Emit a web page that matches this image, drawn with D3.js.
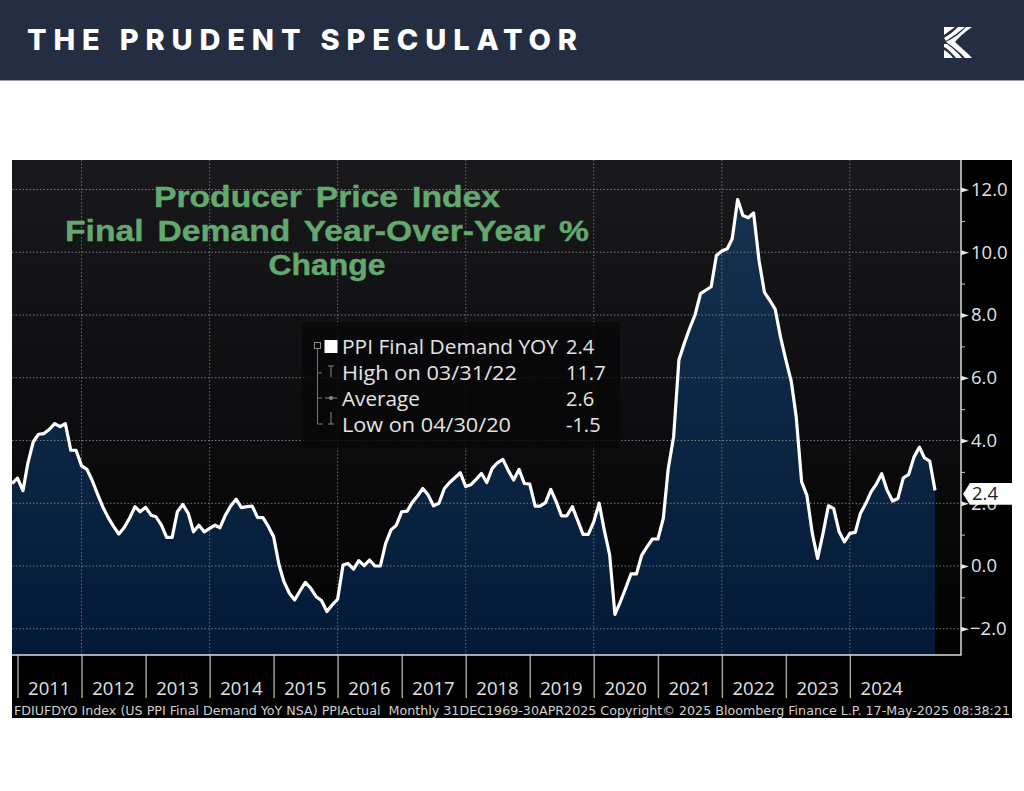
<!DOCTYPE html>
<html>
<head>
<meta charset="utf-8">
<script src="https://cdn.jsdelivr.net/npm/d3@7"></script>
<style>
  body { margin: 0; background: #fff; }
  svg { display: block; }
  text { font-family: "Open Sans", "Liberation Sans", Arial, sans-serif; }
</style>
</head>
<body>
<svg id="chart" width="1024" height="791"></svg>
<script>
// monthly, Nov 2010 to Apr 2025
var ppi2010 = [2.63, 2.8];
var ppi2011 = [2.4, 3.27, 3.96, 4.2, 4.22, 4.35, 4.54, 4.44, 4.54, 3.69, 3.69, 3.2];
var ppi2012 = [3.08, 2.74, 2.3, 1.89, 1.55, 1.27, 1.02, 1.23, 1.52, 1.89, 1.73, 1.87];
var ppi2013 = [1.62, 1.57, 1.3, 0.91, 0.91, 1.73, 1.96, 1.68, 1.09, 1.3, 1.09, 1.2];
var ppi2014 = [1.3, 1.22, 1.62, 1.91, 2.13, 1.86, 1.89, 1.91, 1.55, 1.54, 1.27, 0.93];
var ppi2015 = [0.03, -0.5, -0.87, -1.08, -0.79, -0.52, -0.71, -0.98, -1.1, -1.45, -1.24, -1.06];
var ppi2016 = [0.03, 0.08, -0.1, 0.17, 0.01, 0.19, 0, 0, 0.72, 1.15, 1.3, 1.73];
var ppi2017 = [1.75, 2.02, 2.23, 2.47, 2.26, 1.92, 2.0, 2.47, 2.66, 2.82, 2.97, 2.53];
var ppi2018 = [2.6, 2.76, 2.95, 2.66, 3.11, 3.29, 3.4, 3.04, 2.74, 3.08, 2.63, 2.61];
var ppi2019 = [1.91, 1.91, 2.02, 2.44, 2.05, 1.6, 1.6, 1.89, 1.46, 1.01, 1.01, 1.41];
var ppi2020 = [2.0, 1.15, 0.35, -1.54, -1.14, -0.71, -0.25, -0.25, 0.35, 0.62, 0.86, 0.86];
var ppi2021 = [1.52, 3.1, 4.13, 6.57, 7.1, 7.57, 8.0, 8.68, 8.79, 8.9, 9.9, 10.04];
var ppi2022 = [10.11, 10.43, 11.68, 11.17, 11.1, 11.25, 9.74, 8.72, 8.47, 8.19, 7.31, 6.57];
var ppi2023 = [5.88, 4.76, 2.68, 2.25, 1.04, 0.24, 1.04, 1.92, 1.83, 1.09, 0.77, 1.04];
var ppi2024 = [1.07, 1.67, 1.99, 2.36, 2.62, 2.94, 2.41, 2.07, 2.15, 2.81, 2.91, 3.47];
var ppi2025 = [3.79, 3.45, 3.34, 2.41];

var years = [2011, 2012, 2013, 2014, 2015, 2016, 2017, 2018, 2019, 2020, 2021, 2022, 2023, 2024];
var yMajor = [-2, 0, 2, 4, 6, 8, 10, 12];
var yMinor = [-1, 1, 3, 5, 7, 9, 11];
var titleLines = ["Producer Price Index", "Final Demand Year-Over-Year %", "Change"];
var legendRows = ["PPI Final Demand YOY", "High on 03/31/22", "Average", "Low on 04/30/20"];
var legendVals = ["2.4", "11.7", "2.6", "-1.5"];
var footer = "FDIUFDYO Index (US PPI Final Demand YoY NSA) PPIActual  Monthly 31DEC1969-30APR2025 Copyright\u00A9 2025 Bloomberg Finance L.P. 17-May-2025 08:38:21";

var values = [].concat(ppi2010, ppi2011, ppi2012, ppi2013, ppi2014, ppi2015, ppi2016, ppi2017, ppi2018, ppi2019, ppi2020, ppi2021, ppi2022, ppi2023, ppi2024, ppi2025);
// month ends, stored as the first of the next month so year ticks land on the turn of the year
var dates = values.map(function(d, i) { return new Date(2010, 11 + i, 1); });
var series = values.map(function(d, i) { return { date: dates[i], value: d }; });

var svg = d3.select("#chart");
var L = 12, R = 961, T = 160, B = 655;

var x = d3.scaleTime().domain([new Date(2011, 0, 1), new Date(2025, 0, 1)]).range([17.5, 914]);
var y = d3.scaleLinear().domain([0, 12]).range([566, 189.5]);

var defs = svg.append("defs");
var pg = defs.append("linearGradient").attr("id", "panelGrad").attr("x1", 0).attr("x2", 0).attr("y1", 0).attr("y2", 1);
pg.append("stop").attr("offset", 0).attr("stop-color", "#19191c");
pg.append("stop").attr("offset", 0.6).attr("stop-color", "#0b0b0d");
pg.append("stop").attr("offset", 1).attr("stop-color", "#020203");
var ag = defs.append("linearGradient").attr("id", "areaGrad").attr("gradientUnits", "userSpaceOnUse")
  .attr("x1", 0).attr("x2", 0).attr("y1", y(12)).attr("y2", B);
ag.append("stop").attr("offset", 0).attr("stop-color", "#15324f");
ag.append("stop").attr("offset", 1).attr("stop-color", "#021a38");
defs.append("clipPath").attr("id", "plotClip").append("rect")
  .attr("x", L).attr("y", T).attr("width", R - L).attr("height", B - T);

// header band
svg.append("rect").attr("width", 1024).attr("height", 80).attr("fill", "#252d43");
svg.append("rect").attr("y", 80).attr("width", 1024).attr("height", 1).attr("fill", "#9a9ea8");
svg.append("text").attr("x", 27).attr("y", 50)
  .attr("textLength", 550).attr("lengthAdjust", "spacing")
  .style("font-family", "Inter").style("font-weight", 800).style("font-size", "29px")
  .attr("fill", "#fff").text("THE PRUDENT SPECULATOR");

// logo
var logo = svg.append("g").attr("transform", "translate(944,27)").attr("fill", "#fff");
logo.append("path").attr("d", "M0,0H11L0,8Z");
logo.append("path").attr("d", "M14,0H21C15,5 8,10 2,14L0,11C5,8 10,4 14,0Z");
logo.append("path").attr("d", "M22,0H28C21,5 15,10 11,15C16,20 23,25 28,31H21C16,25 9,20 2,15C10,11 17,6 22,0Z");
logo.append("path").attr("d", "M0,17L3,17C9,21 14,26 18,31H12C8,26 4,22 0,20Z");
logo.append("path").attr("d", "M0,23C4,25 7,28 9,31H0Z");

// black chart frame and panel
svg.append("rect").attr("x", L).attr("y", T).attr("width", 1012 - L).attr("height", 718 - T).attr("fill", "#000");
svg.append("rect").attr("x", L).attr("y", T).attr("width", R - L).attr("height", B - T).attr("fill", "url(#panelGrad)");

var plot = svg.append("g").attr("clip-path", "url(#plotClip)");

var area = d3.area().x(function(d) { return x(d.date); }).y0(B).y1(function(d) { return y(d.value); });
var line = d3.line().x(function(d) { return x(d.date); }).y(function(d) { return y(d.value); });

plot.append("path").datum(series).attr("d", area).attr("fill", "url(#areaGrad)");

// dotted grid, verticals only every second year
plot.selectAll(".hgrid").data(yMajor).enter().append("line").attr("class", "hgrid")
  .attr("x1", L).attr("x2", R).attr("y1", function(d) { return y(d); }).attr("y2", function(d) { return y(d); })
  .attr("stroke", "#77797c").attr("stroke-width", 1).attr("stroke-dasharray", "1.5 2");
plot.selectAll(".vgrid").data(years.filter(function(d) { return d % 2 == 0; })).enter().append("line").attr("class", "vgrid")
  .attr("x1", function(d) { return x(new Date(d, 0, 1)); }).attr("x2", function(d) { return x(new Date(d, 0, 1)); })
  .attr("y1", T).attr("y2", B)
  .attr("stroke", "#6c6e72").attr("stroke-width", 1).attr("stroke-dasharray", "1.5 2");

plot.append("path").datum(series).attr("d", line).attr("fill", "none")
  .attr("stroke", "#fff").attr("stroke-width", 3.2).attr("stroke-linejoin", "round");

// title
svg.selectAll(".title").data(titleLines).enter().append("text").attr("class", "title")
  .attr("x", 327).attr("y", function(d, i) { return [207, 241, 275][i]; })
  .attr("text-anchor", "middle")
  .attr("textLength", function(d, i) { return [346, 524, 117][i]; }).attr("lengthAdjust", "spacingAndGlyphs")
  .style("font-family", "Liberation Sans").style("font-weight", "bold").style("font-size", "29px")
  .style("word-spacing", "4px").attr("stroke", "#63a96f").attr("stroke-width", 0.4)
  .attr("fill", "#63a96f").text(function(d) { return d; });

// legend
var lg = svg.append("g");
lg.append("rect").attr("x", 302).attr("y", 322).attr("width", 318).attr("height", 126).attr("rx", 4)
  .attr("fill", "#070708").attr("fill-opacity", 0.82);
var legendY = d3.scalePoint().domain(legendRows).range([354, 432]);
lg.selectAll(".lname").data(legendRows).enter().append("text").attr("class", "lname")
  .attr("x", 342).attr("y", function(d) { return legendY(d); })
  .attr("textLength", function(d, i) { return [216, 175, 78, 169][i]; }).attr("lengthAdjust", "spacingAndGlyphs")
  .style("font-size", "20px").attr("fill", "#e4e4e4").text(function(d) { return d; });
lg.selectAll(".lval").data(legendVals).enter().append("text").attr("class", "lval")
  .attr("x", 566).attr("y", function(d, i) { return legendY(legendRows[i]); })
  .style("font-size", "20px").attr("fill", "#e4e4e4").text(function(d) { return d; });
lg.append("rect").attr("x", 324.5).attr("y", 340).attr("width", 13).attr("height", 13).attr("fill", "#fff");
lg.append("rect").attr("x", 314.5).attr("y", 342.5).attr("width", 6).attr("height", 6).attr("fill", "none").attr("stroke", "#8a8a8a");
lg.append("path").attr("d", "M317.5,349V424H323M317.5,373H322M317.5,398H322").attr("fill", "none").attr("stroke", "#777");
lg.append("path").attr("d", "M328,366H334M331,366V377M328,424H334M331,412V424M325,398H337").attr("fill", "none").attr("stroke", "#888");
lg.append("circle").attr("cx", 331).attr("cy", 398).attr("r", 2).attr("fill", "#888");

// y axis
svg.append("g").attr("transform", "translate(" + R + ",0)")
  .call(d3.axisRight(y).tickValues(yMinor).tickSize(4).tickFormat(""))
  .call(function(g) { g.select(".domain").remove(); g.selectAll("line").attr("stroke", "#c8c8c8"); });
var yAxis = svg.append("g").attr("transform", "translate(" + R + ",0)")
  .call(d3.axisRight(y).tickValues(yMajor).tickSize(0).tickPadding(10).tickFormat(d3.format(".1f")));
yAxis.select(".domain").remove();
yAxis.selectAll("text").style("font-size", "18.5px").style("font-family", "Open Sans").attr("fill", "#e2e2e2")
  .attr("x", function(d) { return d < 0 ? 9 : 10; });
yAxis.selectAll(".tick").append("path").attr("d", "M0,-2.5L8,0L0,2.5Z").attr("fill", "#e8e8e8");

// x axis: year ticks, then the labels centred in each year
var xAxis = svg.append("g").attr("transform", "translate(0," + B + ")")
  .call(d3.axisBottom(x).tickValues(years.map(function(d) { return new Date(d, 0, 1); })).tickSize(43).tickFormat(""));
xAxis.select(".domain").remove();
xAxis.selectAll("line").attr("stroke", "#a8a8a8").attr("stroke-width", 1.4);
svg.selectAll(".yearLabel").data(years).enter().append("text").attr("class", "yearLabel")
  .attr("x", function(d) { return x(new Date(d, 6, 1)); }).attr("y", 695)
  .attr("text-anchor", "middle").style("font-size", "18.5px").attr("fill", "#e2e2e2")
  .text(function(d) { return d; });

// axis rules
svg.append("path").attr("d", "M" + L + "," + B + "H" + R + "V" + T).attr("fill", "none").attr("stroke", "#dcdcdc").attr("stroke-width", 1.5);

// last value callout
var lastY = y(values[values.length - 1]);
var callout = svg.append("g").attr("transform", "translate(0," + (lastY + 3.5) + ")");
callout.append("path").attr("d", "M963,0L970,-10.8H1012V10.8H970Z").attr("fill", "#fff");
callout.append("text").attr("x", 972).attr("y", 6.5).style("font-size", "18.5px").attr("fill", "#1c2230").text(d3.format(".1f")(values[values.length - 1]));

// footer
svg.append("text").attr("x", 14).attr("y", 715).attr("textLength", 996).attr("lengthAdjust", "spacingAndGlyphs")
  .attr("xml:space", "preserve").style("white-space", "pre")
  .style("font-family", "DejaVu Sans").style("font-size", "12.5px").attr("fill", "#cfcfcf").text(footer);
</script>
</body>
</html>
